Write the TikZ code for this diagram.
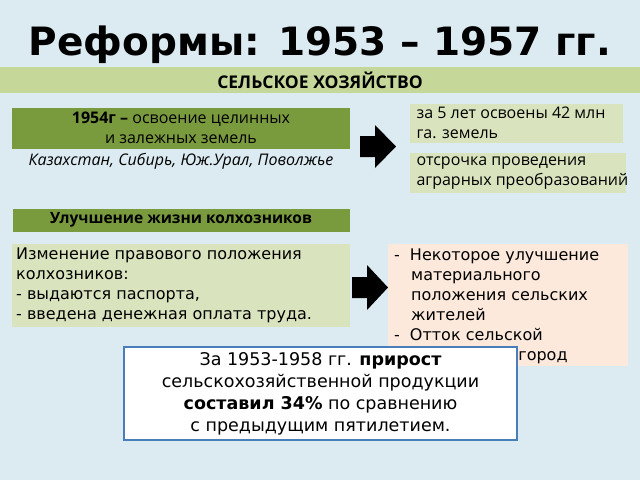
\documentclass[tikz,border=0pt]{standalone}
\usepackage{fontspec}
\setmainfont{DejaVu Sans}
\newfontfamily\opensans{Open Sans}
\definecolor{bgc}{HTML}{DCEBF2}
\definecolor{bannerc}{HTML}{C5D89A}
\definecolor{olive}{HTML}{7A9A3E}
\definecolor{paleg}{HTML}{D9E4BE}
\definecolor{peach}{HTML}{FCE9DC}
\definecolor{blueb}{HTML}{4A7EBB}
\tikzset{
  ostext/.style={font=\opensans\fontsize{16}{20}\selectfont},
  djtext/.style={font=\fontsize{16}{20}\selectfont},
}
\begin{document}
\begin{tikzpicture}[x=1pt,y=-1pt]
\fill[bgc] (0,0) rectangle (640,480);
\useasboundingbox (0,0) rectangle (640,480);
\node[font=\fontsize{39}{44}\selectfont\bfseries] (title) at (320,45) {Реформы: 1953 – 1957 гг.};
\fill[bannerc] (0,67) rectangle (640,93);
\node[font=\opensans\fontsize{17.5}{20}\selectfont\bfseries] (banner) at (320,80) {СЕЛЬСКОЕ ХОЗЯЙСТВО};
\fill[olive] (12,108) rectangle (350,149);
\node[ostext,align=center] (b1954) at (181,128) {\textbf{1954г –} освоение целинных\\ и залежных земель};
\node[font=\opensans\itshape\fontsize{16}{20}\selectfont] (regions) at (181,161) {Казахстан, Сибирь, Юж.Урал, Поволжье};
\fill[black] (360,136) -- (375,136) -- (375,125) -- (396,146.5) -- (375,168) -- (375,157) -- (360,157) -- cycle;
\fill[paleg] (410,104) rectangle (623,143);
\node[ostext,anchor=west,align=left] (r1) at (413,123) {за 5 лет освоены 42 млн\\га. земель};
\fill[paleg] (410,153) rectangle (626,193);
\node[ostext,anchor=west,align=left] (r2) at (413,173) {отсрочка проведения\\аграрных преобразований};
\fill[olive] (13,209) rectangle (350,232);
\node[font=\opensans\fontsize{15.5}{18}\selectfont\bfseries] (kolh) at (181,220) {Улучшение жизни колхозников};
\fill[paleg] (12,244) rectangle (350,327);
\node[djtext,anchor=north west,align=left,inner sep=1pt] (legal) at (15,247) {Изменение правового положения\\колхозников:\\- выдаются паспорта,\\- введена денежная оплата труда.};
\fill[black] (352,277) -- (367,277) -- (367,265) -- (388,287.5) -- (367,310) -- (367,298) -- (352,298) -- cycle;
\fill[peach] (388,244) rectangle (628,366);
\node[djtext,anchor=north west,align=left,inner sep=1pt] (res) at (393,248) {
-\hspace{10pt}Некоторое улучшение\\
\hspace{17pt}материального\\
\hspace{17pt}положения сельских\\
\hspace{17pt}жителей\\
-\hspace{10pt}Отток сельской\\
\hspace{17pt}молодёжи в город};
\node[draw=blueb,line width=1.2pt,fill=white,minimum width=393pt,minimum height=93pt,align=center,font=\fontsize{17.5}{22}\selectfont] (summ) at (320.5,393.5) {За 1953-1958 гг. \textbf{прирост}\\ сельскохозяйственной продукции\\ \textbf{составил 34\%} по сравнению\\ с предыдущим пятилетием.};
\end{tikzpicture}
\end{document}
